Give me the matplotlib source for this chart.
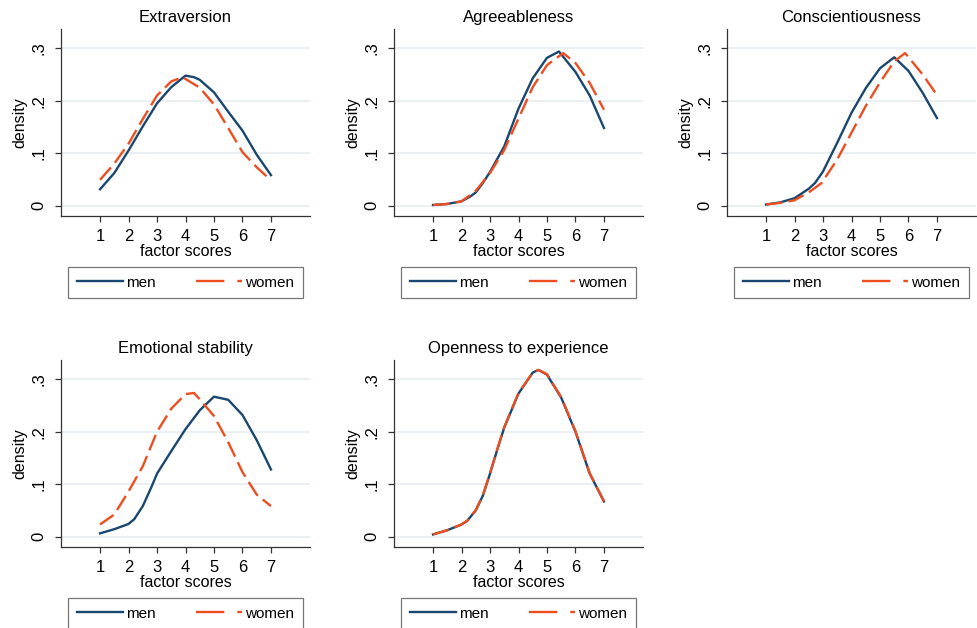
import numpy as np
import matplotlib
matplotlib.use("Agg")
import matplotlib.pyplot as plt
from matplotlib.lines import Line2D

plt.rcParams['font.family'] = ['Liberation Sans', 'DejaVu Sans']

# density curves, one pair per factor
titles = ["Extraversion", "Agreeableness", "Conscientiousness",
          "Emotional stability", "Openness to experience"]

x_ext_m = [1, 1.5, 2, 2.5, 3, 3.5, 4, 4.3, 4.5, 5, 5.5, 6, 6.5, 7]
y_ext_m = [0.031, 0.062, 0.105, 0.151, 0.195, 0.226, 0.248, 0.245, 0.240, 0.216, 0.179, 0.143, 0.097, 0.058]
x_ext_w = [1, 1.5, 2, 2.5, 3, 3.5, 3.9, 4.5, 5, 5.5, 6, 6.5, 7]
y_ext_w = [0.049, 0.080, 0.118, 0.165, 0.210, 0.237, 0.245, 0.225, 0.193, 0.148, 0.102, 0.073, 0.048]

x_agr_m = [1, 1.5, 2, 2.3, 2.5, 2.75, 3, 3.5, 4, 4.5, 5, 5.42, 6, 6.5, 7]
y_agr_m = [0.001, 0.003, 0.008, 0.017, 0.025, 0.043, 0.064, 0.113, 0.185, 0.243, 0.282, 0.294, 0.255, 0.210, 0.148]
x_agr_w = [1, 1.5, 2, 2.5, 3, 3.5, 4, 4.5, 5, 5.57, 6, 6.5, 7]
y_agr_w = [0.001, 0.003, 0.008, 0.028, 0.062, 0.106, 0.166, 0.226, 0.268, 0.291, 0.272, 0.234, 0.183]

x_con_m = [1, 1.5, 2, 2.5, 2.72, 3, 3.5, 4, 4.5, 5, 5.5, 6, 6.5, 7]
y_con_m = [0.002, 0.006, 0.014, 0.032, 0.043, 0.065, 0.120, 0.177, 0.224, 0.262, 0.283, 0.257, 0.215, 0.167]
x_con_w = [1, 1.5, 2, 2.5, 2.95, 3.5, 4, 4.5, 5, 5.5, 5.88, 6.5, 7]
y_con_w = [0.002, 0.005, 0.010, 0.025, 0.043, 0.088, 0.139, 0.190, 0.235, 0.275, 0.291, 0.250, 0.211]

x_emo_m = [1, 1.5, 2, 2.2, 2.5, 2.8, 3, 3.5, 4, 4.5, 5, 5.5, 6, 6.5, 7]
y_emo_m = [0.006, 0.014, 0.024, 0.033, 0.058, 0.094, 0.120, 0.163, 0.205, 0.241, 0.267, 0.261, 0.232, 0.184, 0.128]
x_emo_w = [1, 1.5, 2, 2.5, 3, 3.5, 4, 4.3, 4.5, 5, 5.5, 6, 6.5, 7]
y_emo_w = [0.023, 0.042, 0.086, 0.134, 0.200, 0.244, 0.272, 0.274, 0.262, 0.230, 0.180, 0.123, 0.080, 0.058]

x_opn_m = [1, 1.5, 2, 2.2, 2.5, 2.75, 3, 3.25, 3.5, 4, 4.5, 4.7, 5, 5.5, 6, 6.5, 7]
y_opn_m = [0.004, 0.012, 0.023, 0.030, 0.050, 0.078, 0.120, 0.165, 0.208, 0.273, 0.313, 0.318, 0.309, 0.265, 0.200, 0.120, 0.067]
x_opn_w = x_opn_m
y_opn_w = [0.004, 0.012, 0.023, 0.030, 0.050, 0.079, 0.121, 0.166, 0.209, 0.274, 0.313, 0.318, 0.310, 0.266, 0.201, 0.121, 0.067]

men = [(x_ext_m, y_ext_m), (x_agr_m, y_agr_m), (x_con_m, y_con_m),
       (x_emo_m, y_emo_m), (x_opn_m, y_opn_m)]
women = [(x_ext_w, y_ext_w), (x_agr_w, y_agr_w), (x_con_w, y_con_w),
         (x_emo_w, y_emo_w), (x_opn_w, y_opn_w)]

xticks = [1, 2, 3, 4, 5, 6, 7]
yticks = [0, 0.1, 0.2, 0.3]
ytick_labels = ["0", ".1", ".2", ".3"]

navy = "#1a476f"
orng = "#ee4e1f"
grid_col = "#e6eef0"

W, H = 977, 628
fig = plt.figure(figsize=(W / 100, H / 100), dpi=100)

for i, title in enumerate(titles):
    col, row = i % 3, i // 3
    left = 61 + 333 * col
    right = 310 + 333 * col
    top = 29 + 331 * row
    bot = 216 + 331 * row
    ax = fig.add_axes([left / W, 1 - bot / H, (right - left) / W, (bot - top) / H])

    mx, my = men[i]
    wx, wy = women[i]
    ax.plot(mx, my, color=navy, lw=1.7, zorder=3)
    ax.plot(wx, wy, color=orng, lw=1.7, dashes=(7, 2.6), zorder=4)

    ax.set_xlim(-0.37, 8.37)
    ax.set_ylim(-0.02, 0.337)
    ax.set_xticks(xticks)
    ax.set_yticks(yticks)
    ax.set_yticklabels(ytick_labels, rotation=90, va="center")
    ax.yaxis.grid(True, color=grid_col, lw=1.2)
    ax.set_axisbelow(True)
    for s in ["top", "right"]:
        ax.spines[s].set_visible(False)
    for s in ["left", "bottom"]:
        ax.spines[s].set_color("#333333")
        ax.spines[s].set_linewidth(0.9)
    ax.tick_params(axis="both", length=4.5, width=0.9, color="#333333", labelsize=12)
    ax.tick_params(axis="y", pad=6)
    ax.tick_params(axis="x", pad=5)
    ax.set_xlabel("factor scores", fontsize=11.5, labelpad=0)
    ax.set_ylabel("density", fontsize=11.5, labelpad=3)
    ax.set_title(title, fontsize=12, pad=5)

    handles = [Line2D([], [], color=navy, lw=1.7),
               Line2D([], [], color=orng, lw=1.7, dashes=(12, 5.5))]
    leg = ax.legend(handles, ["men", "women"], ncol=2, loc="upper center",
                    bbox_to_anchor=(0.5, -0.275), frameon=True, fancybox=False,
                    edgecolor="#555555", fontsize=11, handlelength=3.0,
                    handletextpad=0.25, columnspacing=2.6, borderpad=0.55,
                    borderaxespad=0)
    leg.get_frame().set_linewidth(0.9)

fig.savefig("out.png", dpi=100)
